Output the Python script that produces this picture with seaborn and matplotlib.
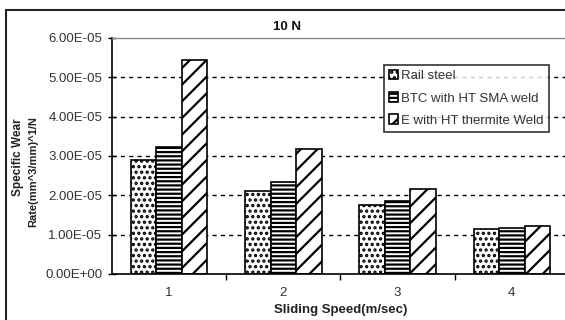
import matplotlib
matplotlib.use("Agg")
import matplotlib.pyplot as plt
from matplotlib.patches import Rectangle
from matplotlib.ticker import FuncFormatter, FixedLocator
import seaborn as sns
import pandas as pd

# Sliding speed categories (m/sec)
speeds = ["1", "2", "3", "4"]

# Specific wear rate, (mm^3/mm)^1/N, at 10 N load
rail_steel = [2.90e-5, 2.10e-5, 1.75e-5, 1.15e-5]
btc_sma = [3.23e-5, 2.33e-5, 1.85e-5, 1.17e-5]
e_thermite = [5.45e-5, 3.17e-5, 2.15e-5, 1.22e-5]

series_names = ["Rail steel", "BTC with HT SMA weld", "E with HT thermite Weld"]
series_values = [rail_steel, btc_sma, e_thermite]
hatches = ["...", "----", "//"]

y_ticks = [0, 1e-5, 2e-5, 3e-5, 4e-5, 5e-5, 6e-5]

rows = []
for name, vals in zip(series_names, series_values):
    for s, v in zip(speeds, vals):
        rows.append({"speed": s, "series": name, "rate": v})
df = pd.DataFrame(rows)

sns.set_theme(style="white")
plt.rcParams["font.family"] = ["Liberation Sans", "DejaVu Sans"]
plt.rcParams["hatch.linewidth"] = 1.6
plt.rcParams["hatch.color"] = "black"

fig = plt.figure(figsize=(5.65, 3.2), dpi=100)
ax = fig.add_axes([112 / 565, 1 - 274 / 320, 457 / 565, 236 / 320])

sns.barplot(data=df, x="speed", y="rate", hue="series", order=speeds,
            hue_order=series_names, width=0.67, gap=0, dodge=True,
            palette=["white"] * 3, edgecolor="black",
            linewidth=1.2, legend=False, ax=ax, errorbar=None)

for cont, h in zip(ax.containers, hatches):
    for p in cont.patches:
        p.set_hatch(h)
        p.set_facecolor("white")
        p.set_edgecolor("black")

ax.set_xlim(-0.5, 3.5)
ax.set_ylim(0, 6e-5)
ax.yaxis.set_major_locator(FixedLocator(y_ticks))
ax.yaxis.set_major_formatter(FuncFormatter(lambda v, _: f"{v:.2E}"))

ax.set_axisbelow(True)
ax.yaxis.grid(True, color="black", linewidth=1.0, linestyle=(0, (3, 3)))
ax.xaxis.grid(False)
ax.get_ygridlines()[-1].set_visible(False)
ax.get_ygridlines()[0].set_visible(False)

for side in ["left", "bottom"]:
    ax.spines[side].set_color("black")
    ax.spines[side].set_linewidth(1.2)
ax.spines["top"].set_color("#8a8a8a")
ax.spines["top"].set_linewidth(1.0)
ax.spines["right"].set_visible(False)

ax.tick_params(axis="y", direction="inout", length=6, width=1, color="black",
               labelsize=9.5, labelcolor="#333333", pad=4, left=True)
ax.tick_params(axis="x", which="major", length=0, labelsize=9.5,
               labelcolor="#333333", pad=9)
ax.xaxis.set_minor_locator(FixedLocator([0.5, 1.5, 2.5]))
ax.tick_params(axis="x", which="minor", direction="out", length=4, width=1,
               color="black", bottom=True)

ax.set_xlabel("Sliding Speed(m/sec)", fontsize=9.5, fontweight="bold",
              color="#222222", labelpad=4)
ax.set_ylabel("")

fig.text(18 / 565, 1 - 157 / 320, "Specific Wear", rotation=90, ha="center",
         va="center", fontsize=8.5, fontweight="bold", color="#222222")
fig.text(33 / 565, 1 - 172 / 320, "Rate(mm^3/mm)^1/N", rotation=90,
         ha="center", va="center", fontsize=8, fontweight="bold",
         color="#222222")

fig.text(287 / 565, 1 - 27 / 320, "10 N", ha="center", va="center",
         fontsize=9.5, fontweight="bold", color="#111111")

handles = [cont.patches[0] for cont in ax.containers]
leg = ax.legend(handles, series_names, loc="upper left",
                bbox_to_anchor=(0.595, 0.886), borderaxespad=0,
                fontsize=9.5, frameon=True, fancybox=False,
                edgecolor="black", handlelength=0.7, handleheight=0.7,
                handletextpad=0.2, labelspacing=0.75, borderpad=0.4)
leg.get_frame().set_linewidth(1.2)
for t in leg.get_texts():
    t.set_color("#333333")

# outer chart frame
fig.add_artist(Rectangle((6 / 565, -0.5), 2.0, 0.5 + (1 - 10 / 320),
                         transform=fig.transFigure, fill=False,
                         edgecolor="#222222", linewidth=1.5, clip_on=False))

fig.savefig("out.png", dpi=100)
